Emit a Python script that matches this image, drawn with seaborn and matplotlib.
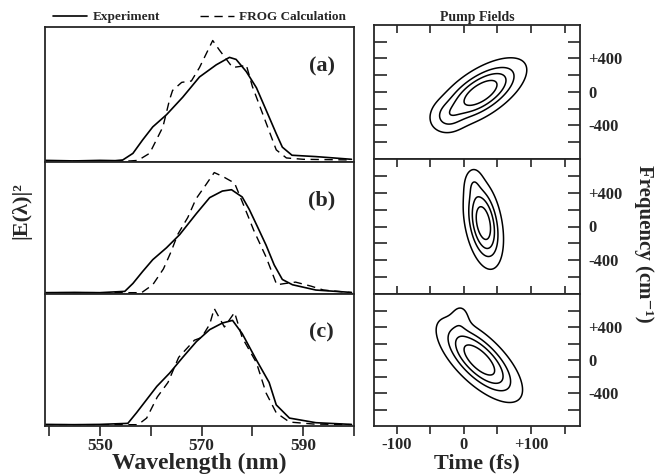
import numpy as np
import pandas as pd
import matplotlib
matplotlib.use("Agg")
import matplotlib.pyplot as plt
import seaborn as sns
from matplotlib.lines import Line2D

# --- spectra (wavelength in nm, intensity in panel units)
wl_exp_a = [539.2, 545, 550, 553, 554.5, 556.5, 558.4, 560.4, 563.1, 566.3, 569.6, 572.9,
            575.5, 576.8, 578.8, 580.8, 582.7, 584.7, 585.9, 587.8, 592.5, 599.5]
exp_a = [0.012, 0.008, 0.012, 0.01, 0.015, 0.064, 0.163, 0.26, 0.35, 0.48, 0.63, 0.72,
         0.775, 0.76, 0.67, 0.55, 0.385, 0.21, 0.11, 0.05, 0.04, 0.02]
wl_frog_a = [539.2, 550, 556, 557.5, 559.8, 562.4, 563.7, 564.3, 566.1, 568.0, 569.6,
             572.2, 573.5, 576.1, 578.0, 578.8, 580.0, 582.7, 584.7, 586.7, 590, 599.5]
frog_a = [0.008, 0.008, 0.008, 0.012, 0.065, 0.26, 0.46, 0.53, 0.59, 0.60, 0.70,
          0.90, 0.83, 0.70, 0.71, 0.72, 0.56, 0.29, 0.09, 0.03, 0.02, 0.015]

wl_exp_b = [539.2, 545, 550, 554.9, 556.5, 558.4, 560.4, 563.1, 565.7, 569.0, 571.6, 574.1,
            575.9, 578.0, 579.4, 581.0, 582.7, 584.3, 585.9, 587.9, 592.5, 599.5]
exp_b = [0.01, 0.012, 0.01, 0.02, 0.08, 0.17, 0.26, 0.35, 0.45, 0.61, 0.73, 0.78,
         0.79, 0.735, 0.64, 0.51, 0.37, 0.22, 0.11, 0.07, 0.03, 0.012]
wl_frog_b = [539.2, 550, 558.2, 560.4, 562.5, 564.0, 565.3, 567.3, 568.9, 570.9, 572.5,
             574.2, 576.5, 578.0, 580.3, 582.7, 584.8, 586.5, 588.5, 591.5, 594, 599.5]
frog_b = [0.01, 0.01, 0.01, 0.07, 0.19, 0.32, 0.45, 0.58, 0.72, 0.83, 0.92,
          0.89, 0.84, 0.70, 0.48, 0.28, 0.07, 0.08, 0.09, 0.06, 0.03, 0.01]

wl_exp_c = [539.2, 545, 550, 555.5, 557.2, 559.2, 561.2, 563.7, 566.3, 569.0, 571.6, 574.1,
            576.1, 578.0, 580.8, 583.3, 584.7, 587.3, 592.5, 599.5]
exp_c = [0.012, 0.01, 0.012, 0.02, 0.10, 0.20, 0.30, 0.40, 0.52, 0.64, 0.73, 0.78,
         0.80, 0.70, 0.50, 0.33, 0.16, 0.06, 0.025, 0.012]
wl_frog_c = [539.2, 550, 557.5, 559.2, 561.3, 563.4, 565.5, 568.6, 570.0, 571.6, 572.5,
             574.5, 576.5, 578.0, 580.8, 582.7, 584.7, 587.3, 592, 599.5]
frog_c = [0.01, 0.01, 0.01, 0.06, 0.22, 0.33, 0.52, 0.65, 0.67, 0.77, 0.89,
          0.75, 0.86, 0.67, 0.48, 0.25, 0.10, 0.03, 0.015, 0.01]

panel_labels = ["(a)", "(b)", "(c)"]

# --- pump fields: main Gaussian lobe per panel (time in fs, frequency in cm-1)
pump_t0 = [25, 29, 23]
pump_f0 = [-10, 40, 0]
pump_sd_t = [32, 14, 30]
pump_sd_f = [195, 255, 240]
pump_rho = [0.65, -0.35, -0.7]
# weak side lobe that bends the outer contour
wing_t = [-25, 14, -5]
wing_f = [-300, 520, 520]
wing_sd_t = [14, 8, 9]
wing_sd_f = [110, 110, 110]
wing_amp = [0.2, 0.15, 0.14]
contour_levels = [0.1, 0.3, 0.5, 0.75]

wl_ticks = [540, 550, 560, 570, 580, 590, 600]
wl_ticklabels = ["", "550", "", "570", "", "590", ""]
t_ticks = [-100, -50, 0, 50, 100, 150]
t_ticklabels = ["-100", "", "0", "", "+100", ""]
f_ticks = [-600, -400, -200, 0, 200, 400, 600]
f_ticklabels = ["", "-400", "", "0", "", "+400", ""]

spectra = [
    (wl_exp_a, exp_a, wl_frog_a, frog_a),
    (wl_exp_b, exp_b, wl_frog_b, frog_b),
    (wl_exp_c, exp_c, wl_frog_c, frog_c),
]

sns.set_theme(style="ticks")
plt.rcParams["font.family"] = ["Liberation Serif", "DejaVu Serif"]
plt.rcParams["font.weight"] = "bold"
plt.rcParams["axes.linewidth"] = 1.3
plt.rcParams["xtick.major.width"] = 1.2
plt.rcParams["ytick.major.width"] = 1.2

W, H = 657, 476
fig = plt.figure(figsize=(W / 100, H / 100), dpi=100)


def box(x0, y0, x1, y1):
    # pixel box (top-left origin) -> figure fraction rect
    return [x0 / W, 1 - y1 / H, (x1 - x0) / W, (y1 - y0) / H]


left_rows = [(27, 162), (162, 294), (294, 426)]
right_rows = [(25, 159), (159, 294), (294, 426)]

t_grid = np.linspace(-140, 180, 400)
f_grid = np.linspace(-820, 820, 400)
T, F = np.meshgrid(t_grid, f_grid)

dash = (0, (6, 4))

for i in range(3):
    # spectra
    ax = fig.add_axes(box(45, left_rows[i][0], 354, left_rows[i][1]))
    wl_e, ie, wl_f, i_f = spectra[i]
    df_e = pd.DataFrame({"wl": wl_e, "I": ie})
    df_f = pd.DataFrame({"wl": wl_f, "I": i_f})
    sns.lineplot(data=df_e, x="wl", y="I", ax=ax, color="black", lw=1.2)
    sns.lineplot(data=df_f, x="wl", y="I", ax=ax, color="black", lw=1.0, linestyle=dash)
    ax.set_xlim(539.2, 600)
    ax.set_ylim(0, 1)
    ax.set_yticks([])
    ax.set_xlabel("")
    ax.set_ylabel("")
    ax.text(0.895, 0.71, panel_labels[i], transform=ax.transAxes, ha="center",
            va="center", fontsize=16, fontweight="bold")
    if i == 2:
        ax.set_xticks(wl_ticks)
        ax.set_xticklabels(wl_ticklabels, fontsize=12.5, fontweight="bold")
        ax.tick_params(axis="x", direction="out", length=7, pad=2)
        ax.set_xlabel("Wavelength (nm)", fontsize=17, fontweight="bold")
        ax.xaxis.set_label_coords(0.5, -0.205)
    else:
        ax.set_xticks([])
    if i == 0:
        handles = [Line2D([], [], color="black", lw=1.2),
                   Line2D([], [], color="black", lw=1.0, linestyle=dash)]
        ax.legend(handles, ["Experiment", "FROG Calculation"], ncol=2, frameon=False,
                  loc="center left", bbox_to_anchor=(0.026, 1.074), borderaxespad=0,
                  borderpad=0, handlelength=2.6, columnspacing=3.0, handletextpad=0.4,
                  prop={"weight": "bold", "size": 9.5})

    # pump fields
    axr = fig.add_axes(box(374, right_rows[i][0], 580, right_rows[i][1]))
    dt = (T - pump_t0[i]) / pump_sd_t[i]
    dfq = (F - pump_f0[i]) / pump_sd_f[i]
    r = pump_rho[i]
    z = np.exp(-0.5 * (dt ** 2 - 2 * r * dt * dfq + dfq ** 2) / (1 - r ** 2))
    z += wing_amp[i] * np.exp(-0.5 * (((T - wing_t[i]) / wing_sd_t[i]) ** 2
                                      + ((F - wing_f[i]) / wing_sd_f[i]) ** 2))
    axr.contour(T, F, z, levels=contour_levels, colors="black", linewidths=1.1)
    axr.set_xlim(-134, 173)
    axr.set_ylim(-800, 800)
    axr.set_xticks(t_ticks)
    axr.set_yticks(f_ticks)
    axr.yaxis.tick_right()
    axr.set_yticklabels(f_ticklabels, fontsize=12, fontweight="bold")
    axr.tick_params(axis="y", which="both", left=True, right=True, direction="in",
                    length=9, pad=6)
    if i == 2:
        axr.set_xticklabels(t_ticklabels, fontsize=12, fontweight="bold")
        axr.tick_params(axis="x", top=True, bottom=True, direction="out", length=6, pad=2)
        axr.set_xlabel("Time (fs)", fontsize=16, fontweight="bold")
        axr.xaxis.set_label_coords(0.5, -0.205)
    else:
        axr.set_xticklabels([])
        axr.tick_params(axis="x", top=True, bottom=False, direction="in", length=6)
    if i == 0:
        axr.set_title("Pump Fields", fontsize=10, fontweight="bold", pad=3)

fig.text(21 / W, 1 - 211 / H, "|E(λ)|²", rotation=90, ha="center", va="center",
         fontsize=16, fontweight="bold")
fig.text(644 / W, 1 - 244 / H, "Frequency (cm⁻¹)", rotation=-90, ha="center",
         va="center", fontsize=15, fontweight="bold")

fig.savefig("out.png", dpi=100)
